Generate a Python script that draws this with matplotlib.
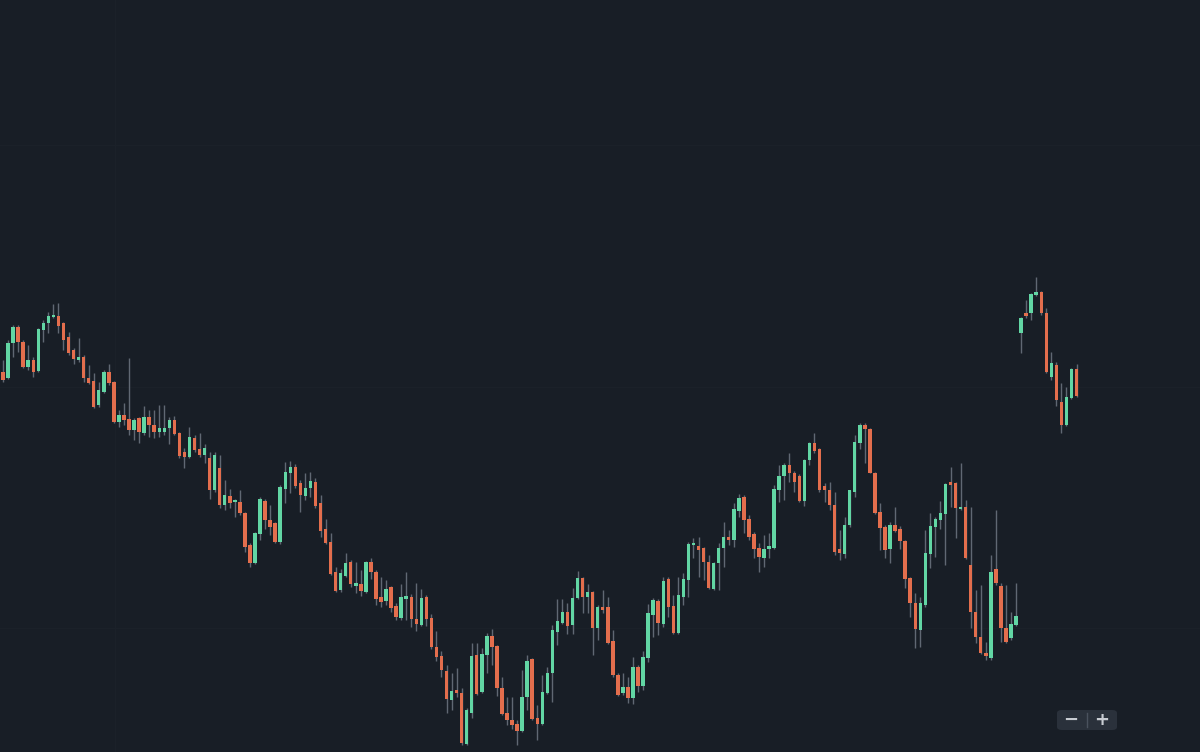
import matplotlib
matplotlib.use("Agg")
import matplotlib.pyplot as plt
import numpy as np
from matplotlib.patches import FancyBboxPatch

# OHLC values (one row per session)
opens = [628, 622, 657, 673, 658, 633, 640, 629, 670, 677, 683, 684, 677, 663, 650, 640, 643, 622, 619, 595,
         608, 628, 618, 578, 585, 581, 570, 582, 567, 583, 575, 568, 568, 572, 580, 567, 548, 543, 562, 551,
         545, 542, 510, 532, 495, 504, 498, 498, 487, 455, 437, 466, 499, 480, 477, 458, 511, 527, 533, 517,
         504, 512, 518, 497, 471, 458, 428, 410, 424, 438, 414, 416, 408, 438, 428, 403, 399, 413, 394, 382,
         401, 403, 381, 375, 403, 382, 353, 344, 329, 300, 310, 307, 256, 287, 345, 308, 345, 364, 354, 312,
         287, 280, 276, 269, 303, 341, 282, 276, 307, 327, 368, 377, 388, 375, 402, 422, 403, 408, 372, 393,
         393, 359, 325, 307, 313, 302, 333, 314, 342, 385, 399, 376, 421, 394, 367, 403, 420, 455, 454, 452,
         438, 411, 437, 452, 463, 460, 489, 503, 481, 466, 452, 442, 451, 452, 510, 524, 535, 527, 524, 499,
         540, 557, 551, 514, 510, 495, 451, 446, 475, 508, 557, 575, 571, 527, 488, 473, 451, 475, 471, 459,
         422, 397, 370, 395, 446, 473, 480, 486, 518, 517, 491, 493, 435, 388, 363, 347, 342, 431, 414, 372,
         362, 375, 667, 687, 687, 705, 708, 687, 623, 635, 598, 575, 602, 631]
highs = [640, 660, 675, 675, 660, 655, 643, 672, 680, 688, 696, 697, 678, 668, 652, 662, 645, 635, 627, 618,
         630, 636, 619, 590, 597, 642, 582, 583, 594, 590, 590, 595, 595, 583, 584, 568, 552, 573, 565, 567,
         556, 548, 548, 545, 520, 511, 501, 510, 488, 457, 468, 503, 501, 495, 478, 515, 538, 539, 536, 520,
         527, 528, 522, 505, 481, 467, 433, 431, 447, 440, 438, 430, 439, 442, 430, 423, 420, 414, 397, 416,
         428, 406, 417, 411, 405, 386, 369, 349, 335, 327, 332, 312, 292, 357, 357, 352, 367, 371, 355, 323,
         303, 303, 280, 330, 345, 342, 295, 325, 333, 375, 401, 401, 397, 412, 429, 423, 416, 409, 395, 410,
         403, 370, 327, 327, 323, 343, 335, 349, 396, 402, 401, 423, 423, 405, 423, 427, 458, 462, 463, 453,
         445, 438, 457, 478, 470, 497, 506, 505, 485, 468, 457, 465, 467, 515, 535, 537, 547, 529, 526, 541,
         558, 567, 552, 517, 518, 508, 470, 483, 510, 565, 577, 577, 572, 528, 497, 475, 478, 493, 474, 460,
         423, 407, 403, 470, 487, 483, 499, 517, 533, 518, 537, 500, 493, 410, 415, 358, 445, 490, 417, 415,
         388, 417, 683, 700, 707, 723, 709, 692, 648, 638, 617, 613, 632, 636]
lows = [618, 621, 643, 648, 632, 630, 623, 628, 658, 667, 682, 667, 650, 645, 636, 638, 618, 616, 592, 593,
        607, 615, 577, 573, 575, 565, 560, 557, 565, 563, 562, 563, 565, 556, 565, 542, 532, 542, 548, 543,
        537, 501, 508, 492, 490, 492, 483, 485, 448, 433, 436, 460, 471, 465, 457, 456, 497, 507, 512, 488,
        500, 503, 492, 463, 456, 425, 408, 408, 423, 413, 407, 404, 407, 421, 395, 393, 395, 388, 380, 380,
        380, 373, 369, 374, 374, 351, 339, 323, 287, 290, 303, 255, 255, 282, 305, 307, 327, 335, 304, 285,
        275, 271, 255, 268, 290, 280, 260, 275, 306, 298, 355, 376, 366, 366, 401, 387, 387, 345, 360, 387,
        356, 323, 304, 305, 297, 296, 308, 310, 338, 363, 365, 373, 383, 366, 366, 395, 403, 442, 423, 420,
        411, 410, 410, 433, 455, 453, 483, 467, 460, 442, 428, 433, 442, 451, 498, 500, 518, 508, 498, 494,
        535, 547, 508, 498, 490, 445, 440, 442, 473, 503, 551, 537, 527, 486, 450, 442, 437, 468, 451, 412,
        383, 352, 353, 393, 432, 443, 471, 435, 493, 462, 490, 441, 372, 357, 346, 340, 340, 415, 358, 357,
        360, 374, 647, 682, 680, 704, 685, 627, 620, 594, 567, 574, 601, 603]
closes = [620, 657, 673, 658, 633, 640, 628, 671, 677, 684, 685, 674, 660, 647, 641, 643, 622, 617, 593, 610,
          628, 617, 578, 585, 580, 570, 580, 568, 583, 575, 568, 572, 572, 580, 566, 544, 543, 563, 550, 545,
          552, 510, 545, 495, 505, 497, 500, 487, 453, 437, 467, 501, 480, 473, 458, 513, 528, 533, 514, 505,
          512, 519, 494, 469, 457, 426, 409, 427, 437, 416, 417, 409, 438, 428, 401, 398, 411, 392, 383, 403,
          404, 381, 376, 402, 381, 353, 343, 330, 301, 309, 307, 257, 290, 344, 306, 346, 364, 353, 312, 286,
          280, 275, 269, 303, 339, 281, 276, 308, 327, 370, 379, 388, 374, 402, 422, 403, 408, 372, 393, 390,
          357, 325, 305, 313, 302, 333, 314, 343, 387, 400, 377, 419, 393, 367, 405, 421, 456, 457, 450, 438,
          412, 437, 452, 463, 460, 491, 502, 480, 463, 451, 443, 451, 454, 511, 524, 535, 527, 518, 499, 540,
          557, 549, 510, 510, 495, 448, 447, 475, 510, 558, 575, 571, 527, 487, 472, 450, 475, 469, 459, 421,
          397, 371, 397, 447, 474, 481, 487, 516, 515, 492, 493, 442, 388, 363, 347, 344, 428, 417, 372, 358,
          376, 384, 682, 684, 706, 708, 687, 628, 637, 600, 575, 603, 631, 604]

bg_color = "#181e26"
grid_color = "#1b2129"
up_color = "#62d6a4"
down_color = "#e36e4d"
wick_color = "#606873"

o = np.array(opens)
h = np.array(highs)
l = np.array(lows)
c = np.array(closes)
idx = np.arange(len(o))

fig = plt.figure(figsize=(12, 7.52), dpi=100, facecolor=bg_color)
ax = fig.add_axes([0, 0, 1, 1])
ax.set_facecolor(bg_color)

# faint grid
for gx in [(115 - 3) / 5.04]:
    ax.axvline(gx, color=grid_color, lw=1, zorder=0)
for gy in [1000 - 145, 1000 - 387, 1000 - 628]:
    ax.axhline(gy, color=grid_color, lw=1, zorder=0)

# wicks
ax.vlines(idx, l, h, color=wick_color, lw=1, zorder=1)

# bodies
up = c >= o
colors = np.where(up, up_color, down_color)
bottoms = np.minimum(o, c)
heights = np.maximum(np.abs(c - o), 1.5)
ax.bar(idx, heights, bottom=bottoms, width=0.68, color=colors, linewidth=0, zorder=2)

ax.set_xlim((0 - 3) / 5.04, (1200 - 3) / 5.04)
ax.set_ylim(248, 1000)
ax.axis("off")

# zoom control in the corner
box = FancyBboxPatch((1057 / 1200, 1 - 730 / 752), 60 / 1200, 20 / 752,
                     boxstyle="round,pad=0,rounding_size=0.004",
                     transform=fig.transFigure, facecolor="#2a313b", edgecolor="none")
fig.patches.append(box)
fig.add_artist(plt.Line2D([1087 / 1200, 1087 / 1200], [1 - 727 / 752, 1 - 713 / 752],
                          transform=fig.transFigure, color="#4a525e", lw=1))
fig.text(1071 / 1200, 1 - 720 / 752, "−", color="#c8ccd2", fontsize=13, fontweight="bold",
         ha="center", va="center")
fig.text(1102 / 1200, 1 - 720 / 752, "+", color="#c8ccd2", fontsize=13, fontweight="bold",
         ha="center", va="center")

fig.savefig("out.png", dpi=100, facecolor=bg_color)
